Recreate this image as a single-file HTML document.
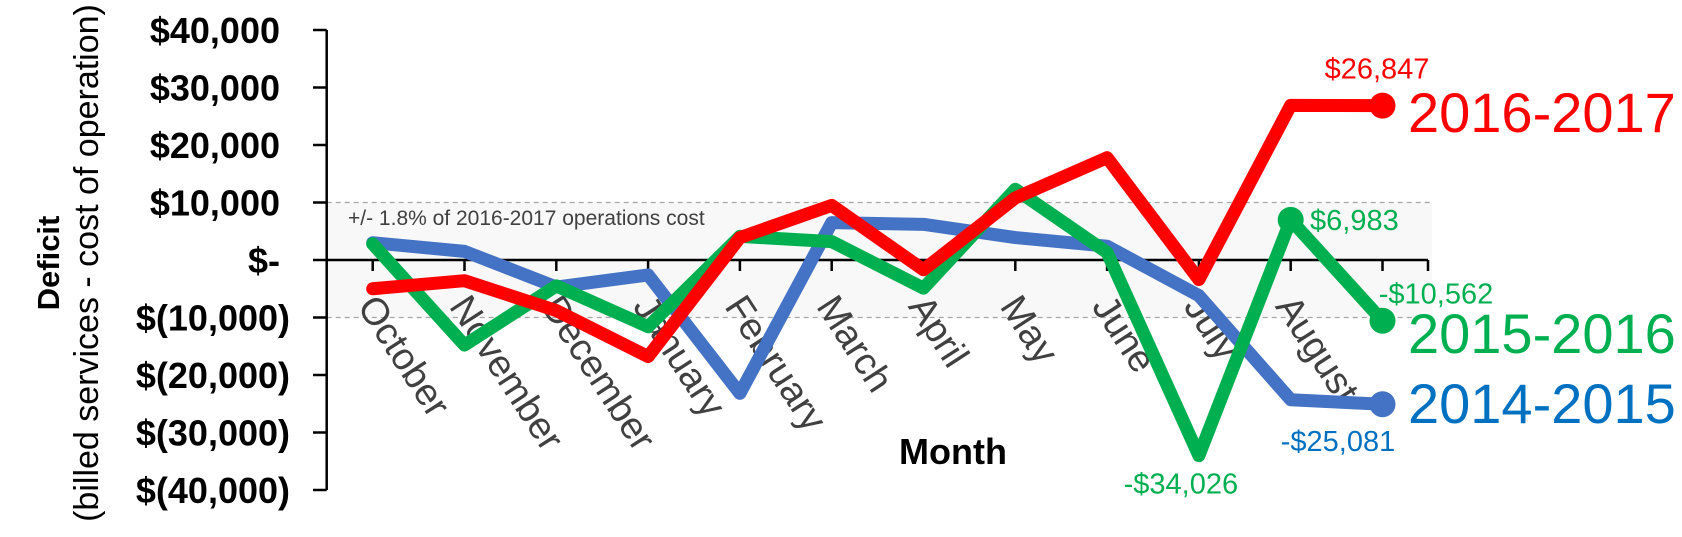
<!DOCTYPE html>
<html><head><meta charset="utf-8"><style>
html,body{margin:0;padding:0;background:#fff}
svg{display:block;font-family:"Liberation Sans",sans-serif}
</style></head><body>
<svg id="chart" width="1682" height="537" viewBox="0 0 1682 537" xmlns="http://www.w3.org/2000/svg">
<g id="grid"></g><g id="axes"></g><g id="series"></g><g id="labels"></g>
</svg>
<script>
const months = ["October","November","December","January","February","March","April","May","June","July","August","September"];
const fy2015 = [3000,1500,-4700,-2600,-23200,6500,6200,3900,2400,-6200,-24300,-25081];
const fy2016 = [2800,-14800,-4500,-11600,4100,3200,-4900,12300,1300,-34026,6983,-10562];
const fy2017 = [-5000,-3600,-8800,-16800,3900,9500,-1700,10800,17800,-3400,26900,26847];
const yTicks = [40000,30000,20000,10000,0,-10000,-20000,-30000,-40000];
const yTickLabels = ["$40,000","$30,000","$20,000","$10,000","$-","$(10,000)","$(20,000)","$(30,000)","$(40,000)"];
const bandRange = [-10000,10000];

const NS="http://www.w3.org/2000/svg";
const x0=372.7, dx=91.8, axisX=326.7, axisEnd=1428;
function xs(i){return x0+dx*i;}
function ys(v){return 260 - v*57.5/10000;}
function mk(tag,attrs,parent,text){const e=document.createElementNS(NS,tag);for(const k in attrs)e.setAttribute(k,attrs[k]);if(text!==undefined)e.textContent=text;parent.appendChild(e);return e;}
const grid=document.getElementById('grid'),axes=document.getElementById('axes'),series=document.getElementById('series'),labels=document.getElementById('labels');

let b=mk('rect',{x:axisX,y:ys(bandRange[1]),width:1432-axisX,height:ys(bandRange[0])-ys(bandRange[1]),fill:'#f8f8f8'},grid);


bandRange.forEach(v=>{const l=mk('line',{x1:axisX,x2:1432,y1:ys(v),y2:ys(v),stroke:'#a6a6a6','stroke-width':1.2,'stroke-dasharray':'5,4'},grid);

});
let bt=mk('text',{x:348,y:225,'font-size':21,fill:'#404040'},grid,'+/- 1.8% of 2016-2017 operations cost');



let ya=mk('line',{x1:axisX,x2:axisX,y1:ys(40000),y2:ys(-40000),stroke:'#000','stroke-width':2.5},axes);


yTicks.forEach((v,i)=>{const t=mk('line',{x1:313,x2:axisX,y1:ys(v),y2:ys(v),stroke:'#000','stroke-width':2.5},axes);


const paren=yTickLabels[i].indexOf('(')>=0;
const tl=mk('text',{x:paren?290:280,y:ys(v)+13,'font-size':36,'font-weight':'bold','text-anchor':'end',fill:'#000'},axes,yTickLabels[i]);

});
let xa=mk('line',{x1:axisX,x2:axisEnd,y1:ys(0),y2:ys(0),stroke:'#000','stroke-width':2.5},axes);


months.forEach((m,i)=>{const t=mk('line',{x1:xs(i),x2:xs(i),y1:ys(0),y2:ys(0)+11,stroke:'#000','stroke-width':2.5},axes);


if(i<11){
const ml=mk('text',{transform:`translate(${xs(i)+6},${ys(0)+32}) rotate(57)`,'font-size':38,fill:'#404040','dominant-baseline':'hanging'},axes,m);

}});
let et=mk('line',{x1:axisEnd,x2:axisEnd,y1:ys(0),y2:ys(0)+11,stroke:'#000','stroke-width':2.5},axes);



let t1=mk('text',{transform:'translate(59,263) rotate(-90)','font-size':31,'font-weight':'bold','text-anchor':'middle'},axes,'Deficit');


let t2=mk('text',{transform:'translate(98,263) rotate(-90)','font-size':34,'text-anchor':'middle'},axes,'(billed services - cost of operation)');


let t3=mk('text',{x:953,y:464,'font-size':36,'font-weight':'bold','text-anchor':'middle'},axes,'Month');



function drawSeries(vals,color,name){
  const pts=vals.map((v,i)=>xs(i)+','+ys(v)).join(' ');
  const p=mk('polyline',{points:pts,fill:'none',stroke:color,'stroke-width':13,'stroke-linejoin':'round','stroke-linecap':'round'},series);
  
  
  const n=vals.length-1;
  const c=mk('circle',{cx:xs(n),cy:ys(vals[n]),r:13,fill:color},series);
  
  
}
function fmt(v){const s='$'+Math.abs(v).toLocaleString('en-US');return v<0?'-'+s:s;}
drawSeries(fy2015,'#4472C4','series-2014-2015');
drawSeries(fy2016,'#00B050','series-2015-2016');
drawSeries(fy2017,'#FF0000','series-2016-2017');
let gm=mk('circle',{cx:xs(10),cy:ys(fy2016[10]),r:13,fill:'#00B050'},series);



function lab(x,y,txt,color,size,anchor,name){const t=mk('text',{x:x,y:y,'font-size':size,fill:color,'text-anchor':anchor||'start'},labels,txt);

}
lab(1377,ys(fy2017[11])-27,fmt(fy2017[11]),'#FF0000',29,'middle','value-label-2016-2017');
lab(1310,ys(fy2016[10])+10,fmt(fy2016[10]),'#00B050',29,'start','value-label-aug-2015-2016');
lab(1436,ys(fy2016[11])-17,fmt(fy2016[11]),'#00B050',29,'middle','value-label-2015-2016');
lab(1338,ys(fy2015[11])+47,fmt(fy2015[11]),'#0070C0',29,'middle','value-label-2014-2015');
lab(xs(9)-18,ys(fy2016[9])+38,fmt(fy2016[9]),'#00B050',29,'middle','value-label-july-2015-2016');
lab(1408,132,'2016-2017','#FF0000',56,'start','legend-2016-2017');
lab(1408,353,'2015-2016','#00B050',56,'start','legend-2015-2016');
lab(1408,423,'2014-2015','#0070C0',56,'start','legend-2014-2015');
</script>
</body></html>
